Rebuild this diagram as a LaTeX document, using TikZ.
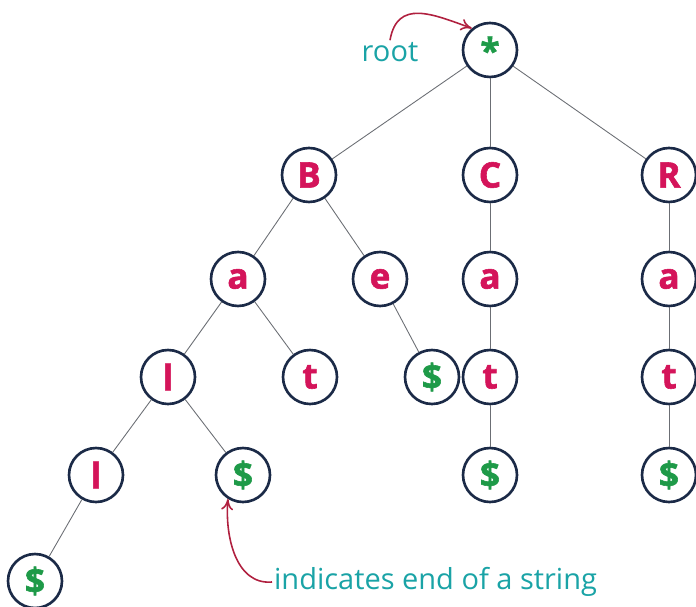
\documentclass[tikz,border=0pt]{standalone}
\usepackage{fontspec}
\setsansfont{Open Sans}[BoldFeatures={FakeBold=1.6}]
\usepackage{xcolor}
\usetikzlibrary{arrows.meta}

\definecolor{ring}{HTML}{1B2A47}
\definecolor{letter}{HTML}{D4145A}
\definecolor{endmark}{HTML}{1E9A48}
\definecolor{note}{HTML}{1AA3A6}
\definecolor{pointer}{HTML}{B0203F}

\begin{document}
\begin{tikzpicture}[
  font=\sffamily,
  ch/.style={circle, draw=ring, line width=1.5pt, fill=white, minimum size=1.08cm, inner sep=0pt,
             text=letter, font=\sffamily\bfseries\fontsize{20}{20}\selectfont},
  stop/.style={ch, text=endmark},
  edge/.style={draw=gray!80!ring, line width=0.5pt},
  label/.style={text=note, font=\sffamily\fontsize{16.5}{16.5}\selectfont, inner sep=1pt},
  hint/.style={-{To[length=2.2mm,width=2.4mm]}, pointer, line width=0.9pt}
]
\useasboundingbox (0,0) rectangle (13.92,12.12);
% trie nodes
\node[stop] (root) at (9.8,11.12)  {*};
\node[ch]   (B)    at (6.18,8.62)  {B};
\node[ch]   (C)    at (9.8,8.62)   {C};
\node[ch]   (R)    at (13.38,8.62) {R};
\node[ch]   (Ba)   at (4.76,6.54)  {a};
\node[ch]   (Be)   at (7.6,6.54)   {e};
\node[ch]   (Ca)   at (9.8,6.54)   {a};
\node[ch]   (Ra)   at (13.38,6.54) {a};
\node[ch]   (Bal)  at (3.36,4.58)  {l};
\node[ch]   (Bat)  at (6.2,4.58)   {t};
\node[stop] (Bee)  at (8.64,4.58)  {\$};
\node[ch]   (Cat)  at (9.8,4.58)   {t};
\node[ch]   (Rat)  at (13.38,4.58) {t};
\node[ch]   (Ball) at (1.92,2.62)  {l};
\node[stop] (Bald) at (4.86,2.62)  {\$};
\node[stop] (Catd) at (9.8,2.62)   {\$};
\node[stop] (Ratd) at (13.38,2.62) {\$};
\node[stop] (Balld) at (0.7,0.5)   {\$};
% edges
\foreach \a/\b in {root/B,root/C,root/R,B/Ba,B/Be,C/Ca,R/Ra,Ba/Bal,Ba/Bat,Be/Bee,
                   Ca/Cat,Ra/Rat,Bal/Ball,Bal/Bald,Cat/Catd,Rat/Ratd,Ball/Balld}
  \draw[edge] (\a) -- (\b);
% notes
\node[label] (rootlbl) at (7.8,11.08) {root};
\node[label, anchor=west] (endlbl) at (5.44,0.48) {indicates end of a string};
\draw[hint] (rootlbl.north) to[out=80,in=160,looseness=1.3] (root.130);
\draw[hint] (endlbl.west) to[out=185,in=-95] (Bald.-122);
\end{tikzpicture}
\end{document}
